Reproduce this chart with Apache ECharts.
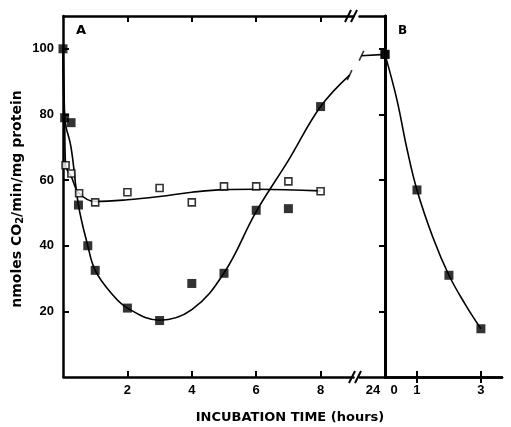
<!DOCTYPE html>
<html>
<head>
<meta charset="utf-8">
<script src="https://cdn.jsdelivr.net/npm/echarts@6/dist/echarts.min.js"></script>
<style>
  html, body { margin: 0; background: #fff; }
  #chart { width: 511px; height: 427px; }
</style>
</head>
<body>
<div id="chart"></div>
<script>
// panel A: incubation time (h), with the 24 h point after the axis break
const openTimeA = [0.08, 0.26, 0.5, 1, 2, 3, 4, 5, 6, 7, 8];
const openRateA = [64.5, 62, 56, 53.2, 56.3, 57.6, 53.2, 58.1, 58.1, 59.6, 56.6];
const closedTimeA = [0, 0.05, 0.25, 0.48, 0.77, 1, 2, 3, 4, 5, 6, 7, 8, 24];
const closedRateA = [100, 79, 77.5, 52.4, 40, 32.5, 21, 17.2, 28.5, 31.6, 50.8, 51.3, 82.4, 98.3];

// panel B: hours after the 24 h point
const timeB = [0, 1, 2, 3];
const rateB = [98.3, 57, 31, 14.7];

// hand drawn fitted curves
const closedCurveA = [[0, 100], [0.05, 79], [0.25, 70], [0.48, 52.4], [0.77, 40], [1, 32.5],
  [1.5, 25.5], [2, 21], [3, 17.3], [4, 20.5], [5, 31.7], [6, 50.4], [7, 66], [8, 82.4], [8.9, 92]];
const openCurveA = [[0, 100], [0.05, 79], [0.08, 64.5], [0.26, 61], [0.5, 56], [1, 53.5], [2, 54],
  [3, 55], [4, 56.3], [5, 57.1], [6, 57.2], [8, 56.7]];
const curve24 = [[23.27, 97.9], [24, 98.3]];
const curveB = [[0, 98.3], [0.37, 84.6], [0.69, 69.4], [1, 57], [1.5, 42.5], [2, 31], [2.5, 22.3], [3, 14.7]];
const curveBreaks = [[8.9, 92], [23.27, 97.9]];

const ticksA = [2, 4, 6, 8];
const labelsA = [2, 4, 6, 8, 24];
const ticksB = [1, 3];
const labelsB = [0, 1, 3];

const zip = (xs, ys) => xs.map((x, i) => [x, ys[i]]);

const black = '#000';
const labelFont = { color: black, fontFamily: 'Liberation Sans', fontWeight: 'bold', fontSize: 13 };
const axisLine = { show: true, lineStyle: { color: black, width: 2.5 } };
const tickIn = (vals) => ({ show: true, inside: true, length: 6, customValues: vals, lineStyle: { color: black, width: 2 } });
const axisBreak = [{ start: 9, end: 23.2, gap: 0.2 }];
const yTicks = [20, 40, 60, 80, 100];

let chart = echarts.init(document.getElementById('chart'), null, { renderer: 'canvas' });

let option = {
  animation: false,
  backgroundColor: '#fff',
  grid: [
    { left: 63, top: 16, width: 322, bottom: 50 },
    { left: 385, top: 16, width: 117, bottom: 50 }
  ],
  xAxis: [
    {
      gridIndex: 0, type: 'value', min: 0, max: 24, breaks: axisBreak, breakArea: { show: false },
      axisLine: axisLine, axisTick: tickIn(ticksA), splitLine: { show: false },
      axisLabel: {
        ...labelFont, margin: 7, customValues: labelsA,
        formatter: v => v === 24 ? '{l|24}' : String(v),
        rich: { l: { ...labelFont, padding: [0, 24, 0, 0] } }
      }
    },
    {
      gridIndex: 0, type: 'value', position: 'top', min: 0, max: 24, breaks: axisBreak, breakArea: { show: false },
      axisLine: axisLine, axisTick: tickIn(ticksA), axisLabel: { show: false }, splitLine: { show: false }
    },
    {
      gridIndex: 1, type: 'value', min: 0, max: 3.66,
      axisLine: axisLine, axisTick: tickIn(ticksB), splitLine: { show: false },
      axisLabel: {
        ...labelFont, margin: 7, customValues: labelsB,
        formatter: v => v === 0 ? '{r|0}' : String(v),
        rich: { r: { ...labelFont, padding: [0, 0, 0, 18] } }
      }
    },
    {
      gridIndex: 1, type: 'value', position: 'top', min: 0, max: 3.66,
      axisLine: axisLine, axisTick: tickIn(ticksB), axisLabel: { show: false }, splitLine: { show: false }
    }
  ],
  yAxis: [
    {
      gridIndex: 0, type: 'value', min: 0, max: 110, interval: 20,
      axisLine: axisLine, axisTick: tickIn(yTicks),
      axisLabel: { ...labelFont, margin: 9, customValues: yTicks },
      splitLine: { show: false }
    },
    {
      gridIndex: 1, type: 'value', position: 'left', min: 0, max: 110, interval: 20,
      axisLine: { show: true, lineStyle: { color: black, width: 3 } },
      axisTick: { show: false }, axisLabel: { show: false }, splitLine: { show: false }
    },
    {
      gridIndex: 1, type: 'value', position: 'right', min: 0, max: 110, interval: 20,
      axisLine: axisLine, axisTick: tickIn(yTicks),
      axisLabel: { show: false }, splitLine: { show: false }
    }
  ],
  series: [
    {
      type: 'line', xAxisIndex: 0, yAxisIndex: 0, data: closedCurveA, smooth: 0.4,
      showSymbol: false, clip: false, lineStyle: { color: black, width: 1.6 }
    },
    {
      type: 'line', xAxisIndex: 0, yAxisIndex: 0, data: openCurveA, smooth: 0.4,
      showSymbol: false, clip: false, lineStyle: { color: black, width: 1.6 }
    },
    {
      type: 'line', xAxisIndex: 0, yAxisIndex: 0, data: curve24,
      showSymbol: false, clip: false, lineStyle: { color: black, width: 1.6 }
    },
    {
      type: 'scatter', xAxisIndex: 0, yAxisIndex: 0, data: curveBreaks, clip: false,
      symbol: 'rect', symbolSize: [1.6, 11], symbolRotate: -25, itemStyle: { color: black }
    },
    {
      type: 'line', xAxisIndex: 2, yAxisIndex: 2, data: curveB, smooth: 0.4,
      showSymbol: false, clip: false, lineStyle: { color: black, width: 1.6 }
    },
    {
      type: 'scatter', xAxisIndex: 0, yAxisIndex: 0, data: zip(openTimeA, openRateA), clip: false, z: 5,
      symbol: 'rect', symbolSize: 7, itemStyle: { color: '#fff', borderColor: black, borderWidth: 1.6 }
    },
    {
      type: 'scatter', xAxisIndex: 0, yAxisIndex: 0, data: zip(closedTimeA, closedRateA), clip: false, z: 6,
      symbol: 'rect', symbolSize: 9, itemStyle: { color: black }
    },
    {
      type: 'scatter', xAxisIndex: 2, yAxisIndex: 2, data: zip(timeB, rateB), clip: false, z: 6,
      symbol: 'rect', symbolSize: 9, itemStyle: { color: black }
    }
  ],
  graphic: [
    { type: 'text', x: 76, y: 24, style: { text: 'A', font: 'bold 13px "DejaVu Sans"', fill: black } },
    { type: 'text', x: 398, y: 25, style: { text: 'B', font: 'bold 12px "DejaVu Sans"', fill: black } },
    {
      type: 'text', x: 290, y: 418,
      style: {
        text: 'INCUBATION TIME (hours)', font: 'bold 13px "DejaVu Sans"', fill: black,
        align: 'center', verticalAlign: 'middle', textAlign: 'center', textVerticalAlign: 'middle'
      }
    },
    {
      type: 'text', x: 17, y: 199, rotation: Math.PI / 2,
      style: {
        text: 'nmoles CO{s|2}/min/mg protein', font: 'bold 14px "DejaVu Sans"', fill: black,
        align: 'center', verticalAlign: 'middle', textAlign: 'center', textVerticalAlign: 'middle',
        rich: { s: { fontSize: 10, fontWeight: 'bold', fontFamily: 'DejaVu Sans', padding: [6, 0, 0, 0] } }
      }
    },
    // axis break marks
    { type: 'line', shape: { x1: 345, y1: 22, x2: 351, y2: 10 }, style: { stroke: black, lineWidth: 2 } },
    { type: 'line', shape: { x1: 351, y1: 22, x2: 357, y2: 10 }, style: { stroke: black, lineWidth: 2 } },
    { type: 'line', shape: { x1: 349, y1: 383, x2: 355, y2: 371 }, style: { stroke: black, lineWidth: 2 } },
    { type: 'line', shape: { x1: 355, y1: 383, x2: 361, y2: 371 }, style: { stroke: black, lineWidth: 2 } }
  ]
};

chart.setOption(option);
</script>
</body>
</html>
